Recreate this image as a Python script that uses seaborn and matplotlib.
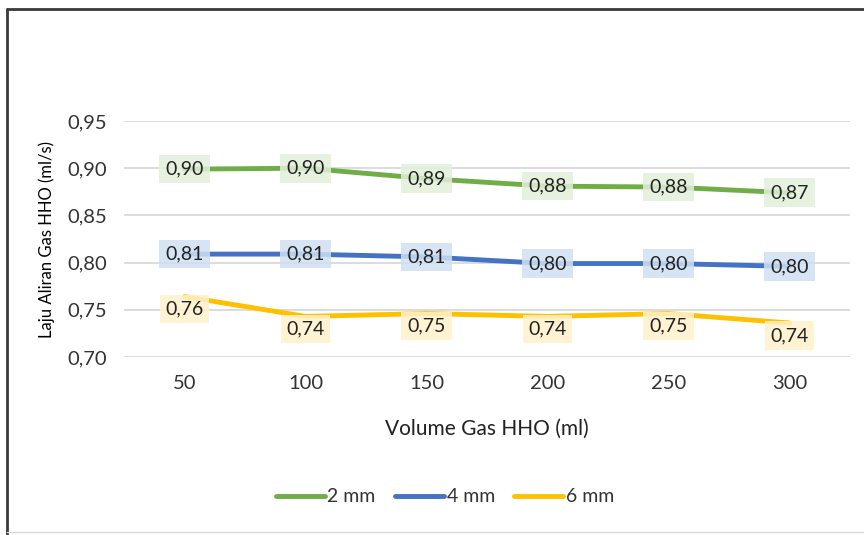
import numpy as np
import pandas as pd
import seaborn as sns
import matplotlib.pyplot as plt
from matplotlib.lines import Line2D
from matplotlib.ticker import FuncFormatter

# data
volume = [50, 100, 150, 200, 250, 300]
laju_2mm = [0.899, 0.900, 0.889, 0.881, 0.880, 0.874]
laju_4mm = [0.809, 0.809, 0.806, 0.799, 0.799, 0.796]
laju_6mm = [0.764, 0.743, 0.746, 0.743, 0.746, 0.736]
series_names = ["2 mm", "4 mm", "6 mm"]

colors = {"2 mm": "#70ad47", "4 mm": "#4472c4", "6 mm": "#ffc000"}
box_colors = {"2 mm": "#e2efda", "4 mm": "#cfe0f3", "6 mm": "#fff2cc"}
label_shift = {"2 mm": 0, "4 mm": 0, "6 mm": -9}

df = pd.DataFrame({
    "pos": list(range(len(volume))) * 3,
    "laju": laju_2mm + laju_4mm + laju_6mm,
    "ukuran": [s for s in series_names for _ in volume],
})

sns.set_style("white")
plt.rcParams["font.family"] = ["Lato", "DejaVu Sans"]

fig = plt.figure(figsize=(8.64, 5.35), dpi=100)
ax = fig.add_axes([124 / 864, 1 - 357 / 535, (850 - 124) / 864, (357 - 121) / 535])

sns.lineplot(data=df, x="pos", y="laju", hue="ukuran", palette=colors,
             linewidth=3.5, legend=False, ax=ax, zorder=3)

for name, vals in zip(series_names, [laju_2mm, laju_4mm, laju_6mm]):
    for i, v in enumerate(vals):
        ax.annotate(f"{v:.2f}".replace(".", ","), (i, v), xytext=(0, label_shift[name]),
                    textcoords="offset points", ha="center", va="center",
                    fontsize=14, color="#222222", zorder=4,
                    bbox=dict(boxstyle="square,pad=0.3", fc=box_colors[name],
                              ec="none", alpha=0.85))

ax.set_xlim(-0.5, len(volume) - 0.5)
ax.set_ylim(0.70, 0.95)
ax.set_xticks(range(len(volume)))
ax.set_xticklabels([str(v) for v in volume])
ax.set_yticks(np.arange(0.70, 0.951, 0.05))
ax.yaxis.set_major_formatter(FuncFormatter(lambda v, p: f"{v:.2f}".replace(".", ",")))
ax.tick_params(axis="both", length=0, labelsize=14.5, labelcolor="#333333")
ax.tick_params(axis="x", pad=13)
ax.tick_params(axis="y", pad=12)
ax.grid(axis="y", color="#d9d9d9", linewidth=1.3)
ax.set_axisbelow(True)
for s in ax.spines.values():
    s.set_visible(False)

ax.set_xlabel("Volume Gas HHO (ml)", fontsize=15, color="#222222", labelpad=19)
ax.set_ylabel("Laju Aliran Gas HHO (ml/s)", fontsize=12, color="#000000", labelpad=9)

handles = [Line2D([0], [0], color=colors[n], linewidth=3.5, solid_capstyle="round")
           for n in series_names]
fig.legend(handles, series_names, loc="center", bbox_to_anchor=(445 / 864, 1 - 497 / 535),
           ncol=3, frameon=False, fontsize=14, handlelength=2.5, handletextpad=0.15,
           columnspacing=1.0, labelcolor="#333333")

# outer chart frame
fig.add_artist(Line2D([7 / 864, 1.0], [1 - 9 / 535, 1 - 9 / 535], color="#3a3a3a", linewidth=2))
fig.add_artist(Line2D([7 / 864, 7 / 864], [1 - 9 / 535, 0], color="#3a3a3a", linewidth=2))
fig.add_artist(Line2D([7 / 864, 1.0], [1 - 532 / 535, 1 - 532 / 535], color="#d9d9d9", linewidth=1))

fig.savefig("out.png", dpi=100)
